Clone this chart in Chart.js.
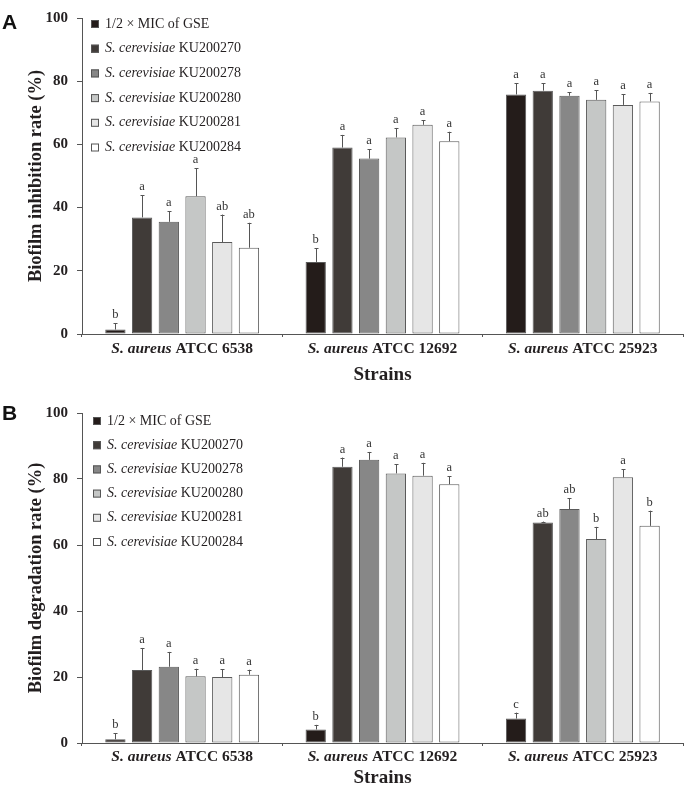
<!DOCTYPE html>
<html>
<head>
<meta charset="utf-8">
<script src="https://cdn.jsdelivr.net/npm/chart.js@4/dist/chart.umd.min.js"></script>
<style>
  html, body { margin: 0; padding: 0; background: #fff; }
  #wrap { position: relative; width: 689px; height: 791px; }
  .pane { position: absolute; left: 0; width: 689px; }
</style>
</head>
<body>
<div id="wrap">
  <div class="pane" style="top:0;height:395px"><canvas id="cA" width="689" height="395"></canvas></div>
  <div class="pane" style="top:395px;height:396px"><canvas id="cB" width="689" height="396"></canvas></div>
</div>
<script>
// ---- data ----
const strains = ["ATCC 6538", "ATCC 12692", "ATCC 25923"];
const speciesLabel = "S. aureus";
const seriesNames = ["1/2 × MIC of GSE", "KU200270", "KU200278", "KU200280", "KU200281", "KU200284"];
const seriesItalic = ["", "S. cerevisiae", "S. cerevisiae", "S. cerevisiae", "S. cerevisiae", "S. cerevisiae"];
const seriesColors = ["#241c1a", "#403b38", "#878787", "#c5c7c6", "#e6e6e6", "#ffffff"];
const yTicks = [0, 20, 40, 60, 80, 100];

// Panel A: biofilm inhibition rate (%), rows = series, columns = strains
const inhibitionMeans = [
  [1.4, 22.8, 75.8],
  [36.9, 59.0, 77.0],
  [35.5, 55.5, 75.4],
  [43.6, 62.2, 74.1],
  [29.1, 66.2, 72.5],
  [27.3, 61.0, 73.6]
];
const inhibitionErrors = [
  [2.0, 4.3, 3.6],
  [7.0, 4.0, 2.4],
  [3.4, 2.9, 1.1],
  [8.9, 3.0, 3.0],
  [8.7, 1.4, 3.4],
  [7.9, 3.0, 2.7]
];
const inhibitionLetters = [
  ["b", "b", "a"],
  ["a", "a", "a"],
  ["a", "a", "a"],
  ["a", "a", "a"],
  ["ab", "a", "a"],
  ["ab", "a", "a"]
];

// Panel B: biofilm degradation rate (%)
const degradationMeans = [
  [1.1, 4.1, 7.4],
  [22.1, 83.7, 66.8],
  [23.1, 85.8, 70.9],
  [20.2, 81.7, 61.8],
  [20.0, 81.0, 80.5],
  [20.7, 78.4, 65.8]
];
const degradationErrors = [
  [1.8, 1.4, 1.8],
  [6.7, 2.8, 0.3],
  [4.5, 2.4, 3.3],
  [2.3, 2.7, 3.7],
  [2.4, 3.9, 2.4],
  [1.5, 2.4, 4.6]
];
const degradationLetters = [
  ["b", "b", "c"],
  ["a", "a", "ab"],
  ["a", "a", "ab"],
  ["a", "a", "b"],
  ["a", "a", "a"],
  ["a", "a", "b"]
];

const SERIF = "'Liberation Serif', 'DejaVu Serif', serif";
const SANS = "'Liberation Sans', Arial, sans-serif";
const INK = "#231f20";
const AXIS = "#555555";

function makePanel(canvasId, cfg) {
  const datasets = seriesNames.map((name, i) => ({
    label: (seriesItalic[i] ? seriesItalic[i] + " " : "") + name,
    data: cfg.means[i],
    backgroundColor: seriesColors[i],
    borderColor: "#5a5a5a",
    borderWidth: 1,
    borderSkipped: false,
    categoryPercentage: 0.8,
    barPercentage: 0.76
  }));

  const decor = {
    id: "decor",
    afterDatasetsDraw(chart) {
      const ctx = chart.ctx;
      const ys = chart.scales.y;
      const xs = chart.scales.x;
      const area = chart.chartArea;
      ctx.save();
      // error bars + letters
      chart.data.datasets.forEach((ds, di) => {
        const meta = chart.getDatasetMeta(di);
        meta.data.forEach((bar, j) => {
          const v = cfg.means[di][j];
          const e = cfg.errors[di][j];
          const yTop = ys.getPixelForValue(v + e);
          const x = Math.round(bar.x) + 0.5;
          ctx.strokeStyle = "#555";
          ctx.lineWidth = 1;
          ctx.beginPath();
          ctx.moveTo(x, bar.y);
          ctx.lineTo(x, yTop);
          ctx.moveTo(x - 2, Math.round(yTop) + 0.5);
          ctx.lineTo(x + 2, Math.round(yTop) + 0.5);
          ctx.stroke();
          ctx.fillStyle = "#333";
          ctx.font = "12.5px " + SERIF;
          ctx.textAlign = "center";
          ctx.textBaseline = "alphabetic";
          ctx.fillText(cfg.letters[di][j], bar.x, yTop - 5);
        });
      });
      // legend
      const lx = area.left + cfg.legendDx;
      let ly = area.top + cfg.legendDy;
      seriesNames.forEach((name, i) => {
        const sq = 8;
        ctx.fillStyle = seriesColors[i];
        ctx.fillRect(lx, ly - sq / 2, sq, sq);
        ctx.strokeStyle = "#555";
        ctx.lineWidth = 1;
        ctx.strokeRect(lx + 0.5, ly - sq / 2 + 0.5, sq - 1, sq - 1);
        let tx = lx + 14;
        ctx.fillStyle = INK;
        ctx.textAlign = "left";
        ctx.textBaseline = "middle";
        if (seriesItalic[i]) {
          ctx.font = "italic 14px " + SERIF;
          ctx.fillText(seriesItalic[i], tx, ly);
          tx += ctx.measureText(seriesItalic[i] + " ").width;
        }
        ctx.font = "14px " + SERIF;
        ctx.fillText(name, tx, ly);
        ly += cfg.legendStep;
      });
      // category labels
      const cf = "15.5px " + SERIF;
      strains.forEach((s, j) => {
        const cx = xs.getPixelForValue(j);
        ctx.font = "italic bold " + cf;
        const w1 = ctx.measureText(speciesLabel + " ").width;
        ctx.font = "bold " + cf;
        const w2 = ctx.measureText(s).width;
        let x0 = cx - (w1 + w2) / 2;
        ctx.fillStyle = INK;
        ctx.textAlign = "left";
        ctx.textBaseline = "middle";
        ctx.font = "italic bold " + cf;
        ctx.fillText(speciesLabel, x0, area.bottom + cfg.catDy);
        ctx.font = "bold " + cf;
        ctx.fillText(s, x0 + w1, area.bottom + cfg.catDy);
      });
      // x title
      ctx.font = "bold 19px " + SERIF;
      ctx.textAlign = "center";
      ctx.textBaseline = "middle";
      ctx.fillText("Strains", (area.left + area.right) / 2, area.bottom + cfg.xTitleDy);
      // y title
      ctx.save();
      ctx.translate(36, (area.top + area.bottom) / 2);
      ctx.rotate(-Math.PI / 2);
      ctx.font = "bold 18.5px " + SERIF;
      ctx.textAlign = "center";
      ctx.textBaseline = "middle";
      ctx.fillText(cfg.yTitle, 0, 0);
      ctx.restore();
      // panel letter
      ctx.font = "bold 21px " + SANS;
      ctx.fillStyle = "#111";
      ctx.textAlign = "left";
      ctx.textBaseline = "middle";
      ctx.fillText(cfg.panel, 2, area.top + cfg.panelDy);
      ctx.restore();
    }
  };

  return new Chart(document.getElementById(canvasId), {
    type: "bar",
    data: { labels: strains, datasets },
    options: {
      responsive: false,
      animation: false,
      devicePixelRatio: 1,
      layout: { padding: { left: 0, right: 6, top: cfg.padTop, bottom: 0 } },
      plugins: { legend: { display: false }, tooltip: { enabled: false } },
      scales: {
        x: {
          grid: { display: true, drawOnChartArea: false, drawTicks: true, tickLength: 3, color: AXIS, offset: true },
          border: { display: true, color: AXIS, width: 1 },
          ticks: { color: "rgba(0,0,0,0)", font: { size: 14 } },
          afterFit(scale) { scale.height = cfg.xHeight; }
        },
        y: {
          min: 0, max: 100,
          afterBuildTicks(scale) { scale.ticks = yTicks.map(v => ({ value: v })); },
          grid: { display: true, drawOnChartArea: false, drawTicks: true, tickLength: 5, color: AXIS },
          border: { display: true, color: AXIS, width: 1 },
          ticks: { color: INK, padding: 9, font: { family: SERIF, size: 15, weight: "bold" } },
          afterFit(scale) { scale.width = 82; }
        }
      }
    },
    plugins: [decor]
  });
}

makePanel("cA", {
  means: inhibitionMeans, errors: inhibitionErrors, letters: inhibitionLetters,
  yTitle: "Biofilm inhibition rate (%)", panel: "A",
  padTop: 9, xHeight: 61, legendDx: 9, legendDy: 6, legendStep: 24.7,
  catDy: 15, xTitleDy: 41, panelDy: 5
});
makePanel("cB", {
  means: degradationMeans, errors: degradationErrors, letters: degradationLetters,
  yTitle: "Biofilm degradation rate (%)", panel: "B",
  padTop: 18, xHeight: 48, legendDx: 11, legendDy: 8, legendStep: 24.2,
  catDy: 14, xTitleDy: 35, panelDy: 1
});
</script>
</body>
</html>
